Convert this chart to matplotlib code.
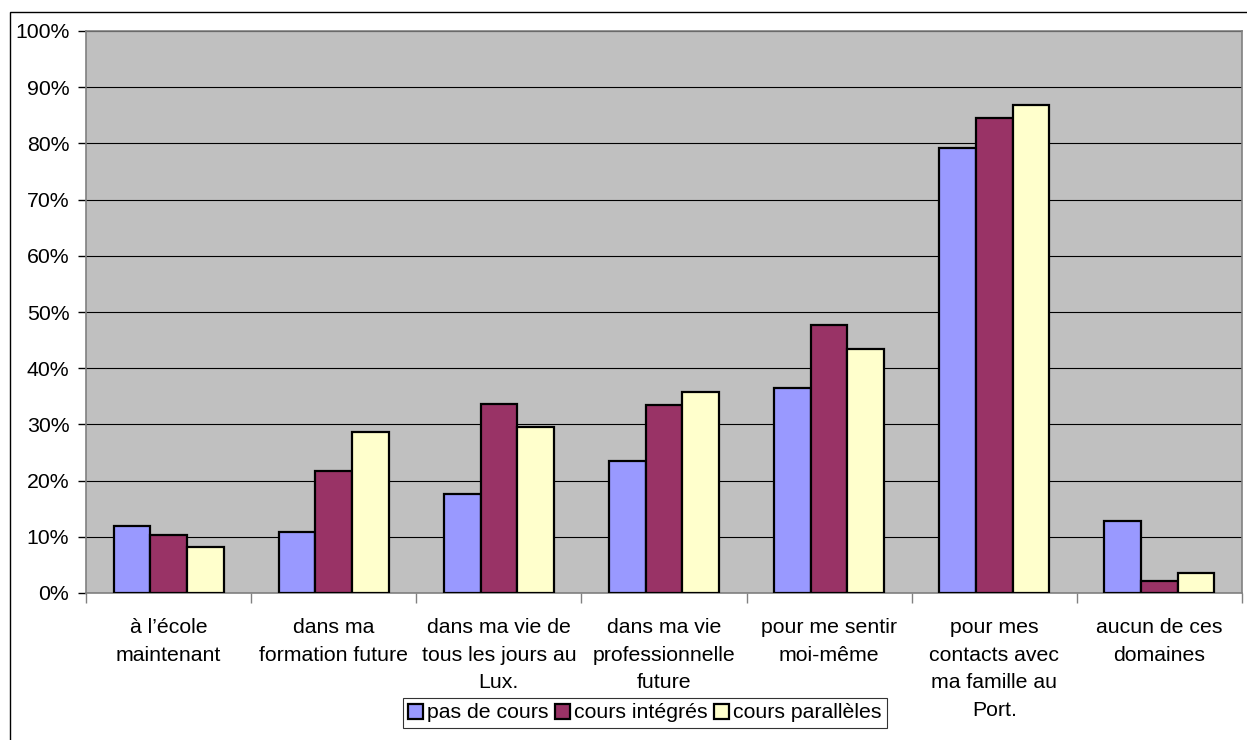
import matplotlib
matplotlib.use("Agg")
import matplotlib.pyplot as plt
import matplotlib.patches as mpatches
import numpy as np
from matplotlib.ticker import FixedLocator, PercentFormatter

categories = [
    "à l’école\nmaintenant",
    "dans ma\nformation future",
    "dans ma vie de\ntous les jours au\nLux.",
    "dans ma vie\nprofessionnelle\nfuture",
    "pour me sentir\nmoi-même",
    "pour mes\ncontacts avec\nma famille au\nPort.",
    "aucun de ces\ndomaines",
]
series_names = ["pas de cours", "cours intégrés", "cours parallèles"]
pas_de_cours = [12.0, 10.8, 17.7, 23.4, 36.4, 79.1, 12.9]
cours_integres = [10.4, 21.7, 33.6, 33.5, 47.7, 84.5, 2.1]
cours_paralleles = [8.2, 28.7, 29.5, 35.7, 43.5, 86.8, 3.6]
y_ticks = [0, 10, 20, 30, 40, 50, 60, 70, 80, 90, 100]

colors = ["#9999FF", "#993366", "#FFFFCC"]

plt.rcParams["font.family"] = ["Liberation Sans", "DejaVu Sans"]
FS = 15.3

fig = plt.figure(figsize=(12.47, 7.40), dpi=100)
W, H = 1247, 740
ax = fig.add_axes([86 / W, 1 - 593 / H, (1242 - 86) / W, (593 - 31) / H])
ax.set_facecolor("#C0C0C0")

x = np.arange(len(categories))
bw = 0.2222
handles = []
for j, (vals, name) in enumerate(zip([pas_de_cours, cours_integres, cours_paralleles], series_names)):
    b = ax.bar(x + (j - 1) * bw, vals, width=bw, color=colors[j],
               edgecolor="black", linewidth=1.6, label=name, zorder=3)
    handles.append(b)

ax.set_xlim(-0.5, len(categories) - 0.5)
ax.set_ylim(0, 100)
ax.yaxis.set_major_locator(FixedLocator(y_ticks))
ax.yaxis.set_major_formatter(PercentFormatter(decimals=0))
ax.grid(axis="y", color="black", linewidth=0.8, zorder=1)
ax.set_axisbelow(True)

ax.set_xticks(x)
ax.set_xticklabels(categories, fontsize=FS, linespacing=1.58)
ax.tick_params(axis="x", which="major", length=0, pad=18)
ax.set_xticks(np.arange(-0.5, len(categories) + 0.5, 1.0), minor=True)
ax.tick_params(axis="x", which="minor", length=7, color="#808080", width=1)
ax.tick_params(axis="y", length=6, width=1, color="black", pad=6, labelsize=FS)

for s in ax.spines.values():
    s.set_color("#808080")
    s.set_linewidth(1.2)

leg = fig.legend(handles=handles, labels=series_names, loc="center",
                 bbox_to_anchor=(645 / W, 1 - 713 / H), ncol=3, fontsize=FS,
                 frameon=True, fancybox=False, edgecolor="black",
                 handlelength=0.7, handleheight=0.7, handletextpad=0.2,
                 columnspacing=0.3, borderpad=0.25, borderaxespad=0)
leg.get_frame().set_linewidth(0.8)

# outer chart frame
fig.patches.append(mpatches.Rectangle((10 / W, -0.1), 2.0, (H - 12) / H + 0.1,
                                      transform=fig.transFigure, fill=False,
                                      edgecolor="black", linewidth=1.0))

fig.savefig("out.png", dpi=100)
